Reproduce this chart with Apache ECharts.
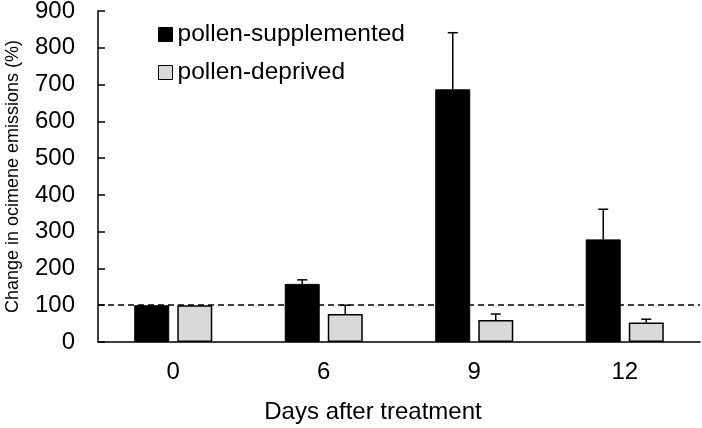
<!DOCTYPE html>
<html>
<head>
<meta charset="utf-8">
<script src="https://cdn.jsdelivr.net/npm/echarts@6/dist/echarts.min.js"></script>
<style>
  html, body { margin: 0; padding: 0; background: #fff; }
  #main { width: 702px; height: 428px; }
</style>
</head>
<body>
<div id="main"></div>
<script>
// data
var days = ['0', '6', '9', '12'];
var supplemented = [100, 158, 687, 279];
var supplementedErr = [0, 11, 154, 82];
var deprived = [100, 76, 60, 53];
var deprivedErr = [0, 24, 16, 9];
var yTicks = [0, 100, 200, 300, 400, 500, 600, 700, 800, 900];

var chart = echarts.init(document.getElementById('main'));
var font = 'Liberation Sans, Arial, sans-serif';
var barW = 35;
var offset = 21.5;

// build error bar data: [category index, value, top, series offset]
function errData(vals, errs, off) {
  var out = [];
  for (var i = 0; i < vals.length; i++) {
    if (errs[i] > 0) out.push([i, vals[i], vals[i] + errs[i], off]);
  }
  return out;
}

function renderErr(params, api) {
  var x = api.coord([api.value(0), 0])[0] + api.value(3);
  var yLow = api.coord([api.value(0), api.value(1)])[1];
  var yHigh = api.coord([api.value(0), api.value(2)])[1];
  var st = { stroke: '#000', lineWidth: 1.5 };
  return {
    type: 'group',
    children: [
      { type: 'line', shape: { x1: x, y1: yLow, x2: x, y2: yHigh }, style: st },
      { type: 'line', shape: { x1: x - 5, y1: yHigh, x2: x + 5, y2: yHigh }, style: st }
    ]
  };
}

var option = {
  backgroundColor: '#fff',
  animation: false,
  textStyle: { fontFamily: font, color: '#000' },
  grid: { left: 98, right: 2, top: 11, bottom: 86, outerBoundsMode: 'none' },
  legend: {
    orient: 'vertical',
    left: 153,
    top: 17,
    icon: 'rect',
    itemWidth: 14,
    itemHeight: 14,
    itemGap: 13,
    textStyle: { fontFamily: font, fontSize: 24.5, color: '#000' },
    data: [
      { name: 'pollen-supplemented', itemStyle: { color: '#000', borderColor: '#000', borderWidth: 1 } },
      { name: 'pollen-deprived', itemStyle: { color: '#d9d9d9', borderColor: '#000', borderWidth: 1 } }
    ]
  },
  xAxis: {
    type: 'category',
    data: days,
    name: 'Days after treatment',
    nameLocation: 'middle',
    nameGap: 58,
    nameTextStyle: { fontFamily: font, fontSize: 24, color: '#000', padding: [0, 52, 0, 0] },
    axisLine: { lineStyle: { color: '#000', width: 1.5 } },
    axisTick: { inside: true, length: 7, lineStyle: { color: '#000', width: 1.5 } },
    axisLabel: { fontFamily: font, fontSize: 24, color: '#000', margin: 18 },
    splitLine: { show: false }
  },
  yAxis: {
    type: 'value',
    min: 0,
    max: 900,
    interval: 100,
    name: 'Change in ocimene emissions (%)',
    nameLocation: 'middle',
    nameGap: 76,
    nameTextStyle: { fontFamily: font, fontSize: 18, color: '#000' },
    axisLine: { show: true, lineStyle: { color: '#000', width: 1.5 } },
    axisTick: { show: true, inside: true, length: 7, lineStyle: { color: '#000', width: 1.5 } },
    axisLabel: {
      fontFamily: font, fontSize: 24, color: '#000', margin: 23,
      formatter: function (v) { return yTicks.indexOf(v) >= 0 ? String(v) : ''; }
    },
    splitLine: { show: false }
  },
  series: [
    {
      name: 'pollen-supplemented',
      type: 'bar',
      data: supplemented,
      barWidth: barW,
      barGap: '23%',
      itemStyle: { color: '#000', borderColor: '#000', borderWidth: 1 },
      z: 3,
      markLine: {
        silent: true,
        symbol: 'none',
        label: { show: false },
        lineStyle: { color: '#000', type: [6, 4], width: 1.5 },
        data: [{ yAxis: 100 }],
        z: 2
      }
    },
    {
      name: 'pollen-deprived',
      type: 'bar',
      data: deprived,
      barWidth: barW,
      itemStyle: { color: '#d9d9d9', borderColor: '#000', borderWidth: 1.5 },
      z: 3
    },
    {
      type: 'custom',
      renderItem: renderErr,
      data: errData(supplemented, supplementedErr, -offset),
      z: 4
    },
    {
      type: 'custom',
      renderItem: renderErr,
      data: errData(deprived, deprivedErr, offset),
      z: 4
    }
  ]
};

chart.setOption(option);
</script>
</body>
</html>
